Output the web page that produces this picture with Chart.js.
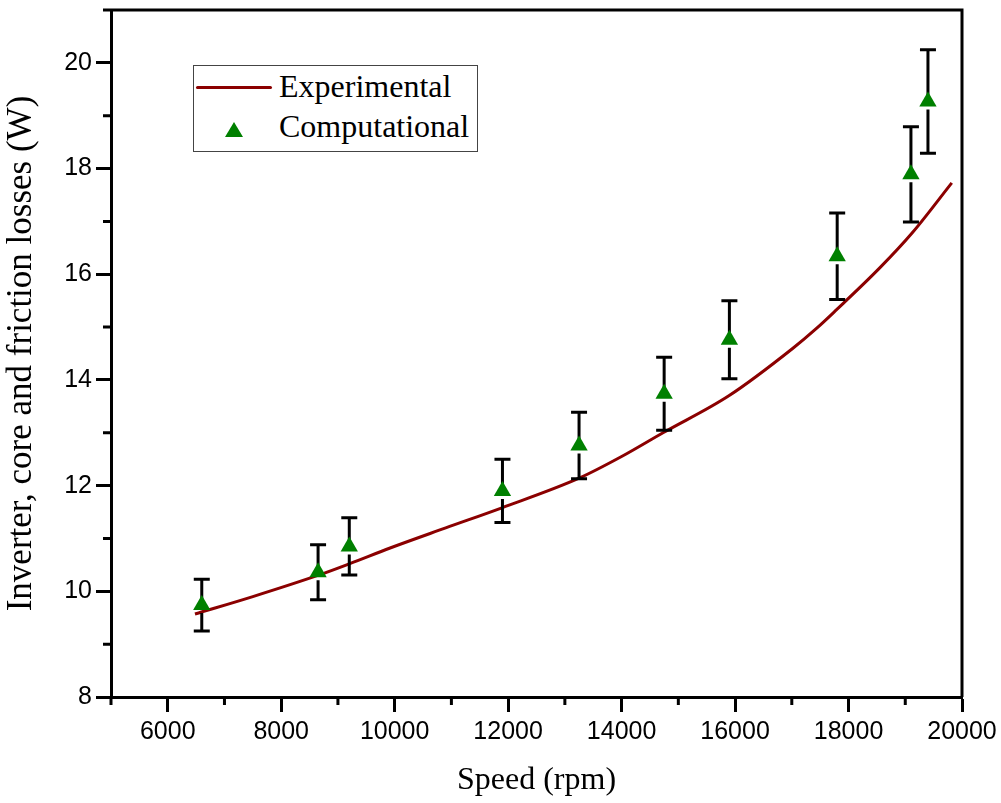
<!DOCTYPE html>
<html>
<head>
<meta charset="utf-8">
<script src="https://cdn.jsdelivr.net/npm/chart.js@4.4.1/dist/chart.umd.min.js"></script>
<style>
  body { margin: 0; background: #fff; }
  #wrap { position: relative; width: 1001px; height: 803px; }
  #legend {
    position: absolute; left: 193px; top: 65px; width: 283px; height: 85px;
    border: 1.5px solid #444; background: #fff;
    font-family: "Liberation Serif", "Times New Roman", serif; font-size: 32px; color: #000;
  }
  #legend .txt { position: absolute; left: 85px; line-height: 36px; white-space: nowrap; }
  #legend .line { position: absolute; left: 2px; top: 20px; width: 76px; height: 3px; background: #8B0000; border-radius: 2px; }
  #legend svg { position: absolute; left: 31px; top: 56px; }
</style>
</head>
<body>
<div id="wrap">
  <canvas id="lossChart" width="1001" height="803"></canvas>
  <div id="legend">
    <div class="line"></div>
    <div class="txt" id="legExp" style="top:2px"></div>
    <svg width="18" height="15"><polygon points="9,0 18,15 0,15" fill="#008000"/></svg>
    <div class="txt" id="legComp" style="top:42px"></div>
  </div>
</div>
<script>
// experimental curve
const speedExp = [6480, 7500, 8670, 9200, 9920, 10900, 11890, 13250, 14000, 14730, 15890, 17020, 17440, 17780, 18550, 19120, 19820];
const lossExp = [9.57, 9.9, 10.31, 10.52, 10.82, 11.2, 11.58, 12.14, 12.55, 13.0, 13.7, 14.6, 14.98, 15.32, 16.12, 16.78, 17.73];

// computational points with error bars
const speedComp = [6600, 8650, 9200, 11900, 13250, 14750, 15900, 17800, 19100, 19400];
const lossComp = [9.74, 10.36, 10.85, 11.9, 12.76, 13.74, 14.76, 16.34, 17.89, 19.27];
const lossErr = [0.49, 0.52, 0.54, 0.6, 0.63, 0.69, 0.74, 0.82, 0.9, 0.98];

// axes
const xRange = [5000, 20000];
const yRange = [8, 21];
const xMajor = [6000, 8000, 10000, 12000, 14000, 16000, 18000, 20000];
const yMajor = [8, 10, 12, 14, 16, 18, 20];
const xMinor = [5000, 7000, 9000, 11000, 13000, 15000, 17000, 19000];
const yMinor = [9, 11, 13, 15, 17, 19];

const expLabel = "Experimental";
const compLabel = "Computational";

document.getElementById("legExp").textContent = expLabel;
document.getElementById("legComp").textContent = compLabel;

//error bars, drawn just before the triangles
let errorBars = {
  id: "errorBars",
  beforeDatasetDraw: function (chart, args) {
    if (args.index !== 0) return;
    let ctx = chart.ctx;
    let x = chart.scales.x, y = chart.scales.y;
    ctx.save();
    ctx.strokeStyle = "#000";
    ctx.lineWidth = 3;
    speedComp.forEach(function (s, i) {
      let px = x.getPixelForValue(s);
      let pc = y.getPixelForValue(lossComp[i]);
      let pt = y.getPixelForValue(lossComp[i] + lossErr[i]);
      let pb = y.getPixelForValue(lossComp[i] - lossErr[i]);
      ctx.beginPath();
      ctx.moveTo(px, pt); ctx.lineTo(px, pc);
      ctx.moveTo(px, pc + 8); ctx.lineTo(px, pb);
      ctx.moveTo(px - 8, pt); ctx.lineTo(px + 8, pt);
      ctx.moveTo(px - 8, pb); ctx.lineTo(px + 8, pb);
      ctx.stroke();
    });
    ctx.restore();
  }
};

//top/right frame and minor ticks
let frame = {
  id: "frame",
  afterDraw: function (chart) {
    let ctx = chart.ctx;
    let a = chart.chartArea;
    let x = chart.scales.x, y = chart.scales.y;
    ctx.save();
    ctx.strokeStyle = "#000";
    ctx.lineWidth = 3;
    ctx.beginPath();
    ctx.moveTo(a.left - 8, a.top); ctx.lineTo(a.right, a.top); ctx.lineTo(a.right, a.bottom);
    ctx.stroke();
    ctx.beginPath();
    xMinor.forEach(function (v) {
      let px = x.getPixelForValue(v);
      ctx.moveTo(px, a.bottom); ctx.lineTo(px, a.bottom + 8);
    });
    yMinor.forEach(function (v) {
      let py = y.getPixelForValue(v);
      ctx.moveTo(a.left, py); ctx.lineTo(a.left - 8, py);
    });
    ctx.stroke();
    ctx.restore();
  }
};

const tickFont = { family: "'Liberation Sans', Arial, sans-serif", size: 25 };
const titleFont = { family: "'Liberation Serif', 'Times New Roman', serif", size: 32 };

new Chart(document.getElementById("lossChart").getContext("2d"), {
  type: "scatter",
  data: {
    datasets: [{
      label: compLabel,
      data: speedComp.map(function (s, i) { return { x: s, y: lossComp[i] }; }),
      pointStyle: "triangle",
      pointRadius: 10,
      pointBorderWidth: 0,
      backgroundColor: "#008000",
      borderColor: "#008000",
      showLine: false
    }, {
      label: expLabel,
      type: "line",
      data: speedExp.map(function (s, i) { return { x: s, y: lossExp[i] }; }),
      borderColor: "#8B0000",
      borderWidth: 3,
      pointRadius: 0,
      cubicInterpolationMode: "monotone",
      fill: false
    }]
  },
  options: {
    responsive: false,
    animation: false,
    layout: { padding: { top: 10, right: 39, left: 0, bottom: 0 } },
    plugins: { legend: { display: false }, tooltip: { enabled: false } },
    scales: {
      x: {
        type: "linear",
        min: xRange[0],
        max: xRange[1],
        afterBuildTicks: function (scale) { scale.ticks = xMajor.map(function (v) { return { value: v }; }); },
        afterFit: function (scale) { scale.height = 106; scale.paddingLeft = 0; scale.paddingRight = 0; },
        ticks: { color: "#000", font: tickFont, padding: 5, maxRotation: 0, autoSkip: false,
                 callback: function (v) { return String(v); } },
        grid: { drawOnChartArea: false, tickLength: 15, tickWidth: 3, tickColor: "#000" },
        border: { display: true, color: "#000", width: 3 },
        title: { display: true, text: "Speed (rpm)", color: "#000", font: titleFont, padding: { top: 0, bottom: 3 } }
      },
      y: {
        type: "linear",
        min: yRange[0],
        max: yRange[1],
        afterBuildTicks: function (scale) { scale.ticks = yMajor.map(function (v) { return { value: v }; }); },
        afterFit: function (scale) { scale.width = 111; scale.paddingTop = 0; scale.paddingBottom = 0; },
        ticks: { color: "#000", font: tickFont, padding: 4, autoSkip: false,
                 callback: function (v) { return String(v); } },
        grid: { drawOnChartArea: false, tickLength: 15, tickWidth: 3, tickColor: "#000" },
        border: { display: true, color: "#000", width: 3 },
        title: { display: true, text: "Inverter, core and friction losses (W)", color: "#000",
                 font: { family: titleFont.family, size: 35 }, padding: { top: 1, bottom: 0 } }
      }
    }
  },
  plugins: [errorBars, frame]
});
</script>
</body>
</html>
